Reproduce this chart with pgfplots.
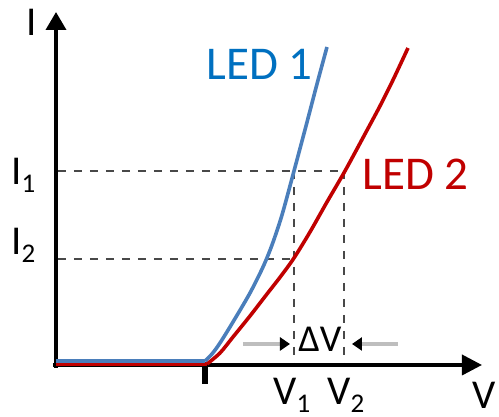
\documentclass[border=0pt]{standalone}
\usepackage{pgfplots}
\pgfplotsset{compat=1.18}
\usetikzlibrary{arrows.meta}
\usepackage{fontspec}
\setmainfont{Carlito}

\definecolor{ledblue}{HTML}{4A7EBB}
\definecolor{ledbluetext}{HTML}{0070C0}
\definecolor{ledred}{HTML}{C00000}
\definecolor{dashgray}{HTML}{484848}
\definecolor{arrgray}{HTML}{BEBEBE}

\newcommand\lbl{\fontsize{20.5}{24}\selectfont}
\newcommand\sub[1]{\raisebox{-4pt}{\fontsize{13.5}{14}\selectfont #1}}

\begin{document}
\begin{tikzpicture}
\begin{axis}[hide axis, scale only axis, width=249.5pt, height=208.5pt,
  xmin=-56, xmax=443, ymin=-52, ymax=365, clip=false]
% I1, I2 guides
\addplot[dashgray, line width=1.2pt, dash pattern=on 4pt off 4pt] coordinates {(2,194) (288,194)};
\addplot[dashgray, line width=1.2pt, dash pattern=on 4pt off 4pt] coordinates {(2,106) (238,106)};
% V1, V2 guides
\addplot[dashgray, line width=1.2pt, dash pattern=on 4pt off 4pt] coordinates {(238,194) (238,0)};
\addplot[dashgray, line width=1.2pt, dash pattern=on 4pt off 4pt] coordinates {(288,194) (288,0)};

% axes
\draw[line width=1.8pt, -{Triangle[length=9pt,width=10pt]}] (axis cs:0,-3) -- (axis cs:0,353);
\draw[line width=1.8pt, -{Triangle[length=10pt,width=10pt]}] (axis cs:-3,0) -- (axis cs:426,0);
\draw[line width=2.8pt] (axis cs:149,0) -- (axis cs:149,-19);

% LED 2
\addplot[ledred, line width=1.8pt] coordinates {(0,1) (151,1)};
\addplot[ledred, line width=1.8pt, smooth, tension=0.5] coordinates {
  (151,1) (164,12) (177,28) (194,49) (211,71) (225,89) (238,107)
  (254,133) (271,163) (289,194) (309,231) (324,259) (337,285) (352,317)};
% LED 1
\addplot[ledblue, line width=1.8pt] coordinates {(0,4) (149,4)};
\addplot[ledblue, line width=1.8pt, smooth, tension=0.5] coordinates {
  (149,4) (156,11) (164,22) (177,43) (194,72) (207,98) (216,120)
  (226,150) (238,194) (250,239) (261,281) (271,318)};

% delta V arrows
\draw[arrgray, line width=1.6pt, -{Triangle[length=5pt,width=6.5pt,color=black]}] (axis cs:187,21) -- (axis cs:234,21);
\draw[arrgray, line width=1.6pt, -{Triangle[length=5pt,width=6.5pt,color=black]}] (axis cs:342,21) -- (axis cs:296,21);

% labels
\node[inner sep=0, anchor=base west] at (axis cs:-30,329) {\lbl I};
\node[inner sep=0, anchor=base west] at (axis cs:-45,180) {\lbl I\sub{1}};
\node[inner sep=0, anchor=base west] at (axis cs:-45,110) {\lbl I\sub{2}};
\node[inner sep=0, anchor=base west] at (axis cs:217,-40) {\lbl V\sub{1}};
\node[inner sep=0, anchor=base west] at (axis cs:271,-40) {\lbl V\sub{2}};
\node[inner sep=0, anchor=base west] at (axis cs:416,-44) {\lbl V};
\node[inner sep=0, anchor=base west] at (axis cs:242,13) {\fontsize{19}{22}\selectfont ΔV};
\node[inner sep=0, anchor=base west, text=ledbluetext] at (axis cs:150,285) {\fontsize{23.5}{28}\selectfont LED 1};
\node[inner sep=0, anchor=base west, text=ledred] at (axis cs:306,175) {\fontsize{23.5}{28}\selectfont LED 2};
\end{axis}
\pgfresetboundingbox
\useasboundingbox (current axis.south west) rectangle (current axis.north east);
\end{tikzpicture}
\end{document}
